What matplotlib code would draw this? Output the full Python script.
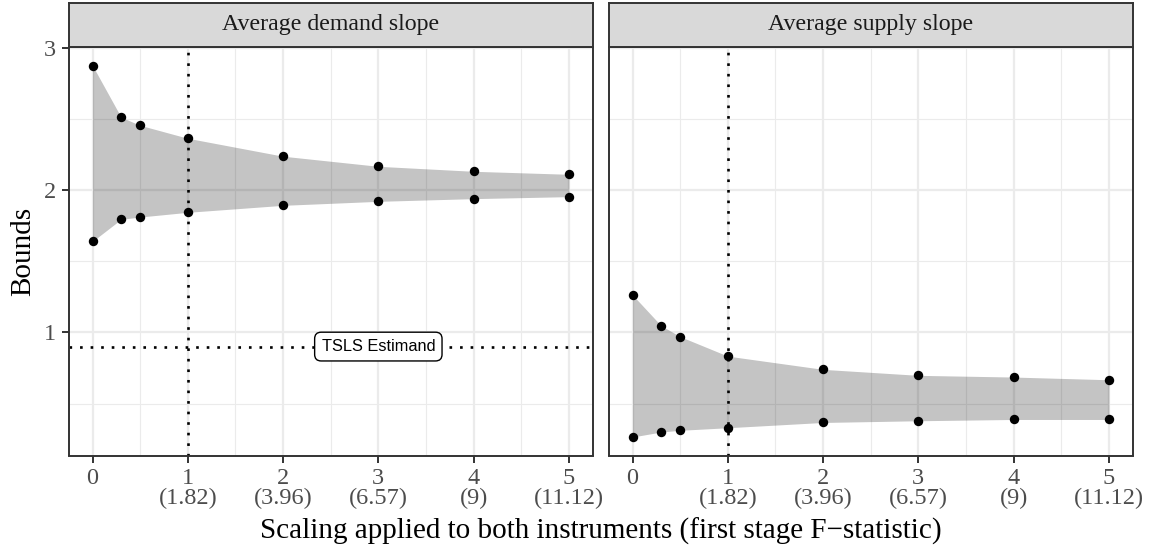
import matplotlib
matplotlib.use("Agg")
import matplotlib.pyplot as plt
import numpy as np

# ---- data ----
scaling = [0, 0.3, 0.5, 1, 2, 3, 4, 5]
demand_upper = [2.874, 2.511, 2.454, 2.363, 2.237, 2.166, 2.131, 2.110]
demand_lower = [1.639, 1.794, 1.810, 1.843, 1.892, 1.920, 1.939, 1.953]
supply_upper = [1.263, 1.047, 0.970, 0.833, 0.740, 0.698, 0.686, 0.667]
supply_lower = [0.265, 0.300, 0.312, 0.330, 0.367, 0.379, 0.388, 0.388]
panel_titles = ["Average demand slope", "Average supply slope"]
xtick_values = [0, 1, 2, 3, 4, 5]
xtick_labels = ["0", "1\n(1.82)", "2\n(3.96)", "3\n(6.57)", "4\n(9)", "5\n(11.12)"]
ytick_values = [1, 2, 3]
ytick_labels = ["1", "2", "3"]
tsls_estimand = 0.9
tsls_label = "TSLS Estimand"
tsls_label_x = 3
vline_x = 1
xlabel = "Scaling applied to both instruments (first stage F\u2212statistic)"
ylabel = "Bounds"

plt.rcParams['font.family'] = ['Liberation Serif', 'DejaVu Serif']

W, H = 1149, 552
fig = plt.figure(figsize=(W / 100, H / 100), dpi=100)

dark = "#333333"
tickcol = "#4D4D4D"

panel_lefts = [68.7, 608.7]
panel_w = 524.0
panel_top = 47.0
panel_bot = 455.5
strip_top = 2.7

series = [(demand_lower, demand_upper), (supply_lower, supply_upper)]

xlim = (-0.25, 5.25)
ylim = (0.135, 3.004)

for i, (lo, up) in enumerate(series):
    left = panel_lefts[i] / W
    ax = fig.add_axes([left, 1 - panel_bot / H, panel_w / W, (panel_bot - panel_top) / H])
    ax.set_xlim(*xlim)
    ax.set_ylim(*ylim)
    # grid
    for xv in [0.5, 1.5, 2.5, 3.5, 4.5]:
        ax.axvline(xv, color="#EBEBEB", lw=0.8, zorder=0)
    for yv in [0.5, 1.5, 2.5]:
        ax.axhline(yv, color="#EBEBEB", lw=0.8, zorder=0)
    for xv in xtick_values:
        ax.axvline(xv, color="#EBEBEB", lw=1.6, zorder=0)
    for yv in ytick_values:
        ax.axhline(yv, color="#EBEBEB", lw=1.6, zorder=0)

    ax.fill_between(scaling, lo, up, color="black", alpha=0.23, lw=0, zorder=1)
    ax.scatter(scaling, up, s=46, color="black", zorder=3, linewidths=0)
    ax.scatter(scaling, lo, s=46, color="black", zorder=3, linewidths=0)

    ax.axvline(vline_x, color="black", lw=1.9, ls=(0, (1, 3)), zorder=2)
    if i == 0:
        ax.axhline(tsls_estimand, color="black", lw=1.9, ls=(0, (1, 3)), zorder=2)
        ax.text(tsls_label_x, tsls_estimand, tsls_label, ha="center", va="center",
                fontsize=11.8, family=["Liberation Sans", "DejaVu Sans"], zorder=4,
                bbox=dict(boxstyle="round,pad=0.42,rounding_size=0.4", fc="white",
                          ec="black", lw=1.0))

    ax.set_xticks(xtick_values, labels=xtick_labels)
    ax.set_yticks(ytick_values, labels=ytick_labels if i == 0 else [])
    ax.tick_params(axis="both", length=5.2, width=1.4, color=dark, labelcolor=tickcol,
                   labelsize=17.5)
    ax.tick_params(axis="x", pad=3.5)
    ax.tick_params(axis="y", pad=4)
    if i == 1:
        ax.tick_params(axis="y", length=0)
    for lab in ax.get_xticklabels():
        lab.set_linespacing(0.95)
        lab.set_va("top")
    for sp in ax.spines.values():
        sp.set_color(dark)
        sp.set_linewidth(1.4)
    ax.set_facecolor("white")

    # strip
    sax = fig.add_axes([left, 1 - panel_top / H, panel_w / W, (panel_top - strip_top) / H])
    sax.set_facecolor("#D9D9D9")
    sax.set_xticks([])
    sax.set_yticks([])
    for sp in sax.spines.values():
        sp.set_color(dark)
        sp.set_linewidth(1.4)
    sax.text(0.5, 0.5, panel_titles[i], ha="center", va="center", fontsize=17.2,
             color="#1A1A1A", transform=sax.transAxes)

fig.text(600.7 / W, 1 - 531 / H, xlabel, ha="center", va="center", fontsize=21, color="black")
fig.text(23 / W, 1 - 251.5 / H, ylabel, ha="center", va="center", rotation=90, fontsize=21,
         color="black")

fig.savefig("out.png", dpi=100)
